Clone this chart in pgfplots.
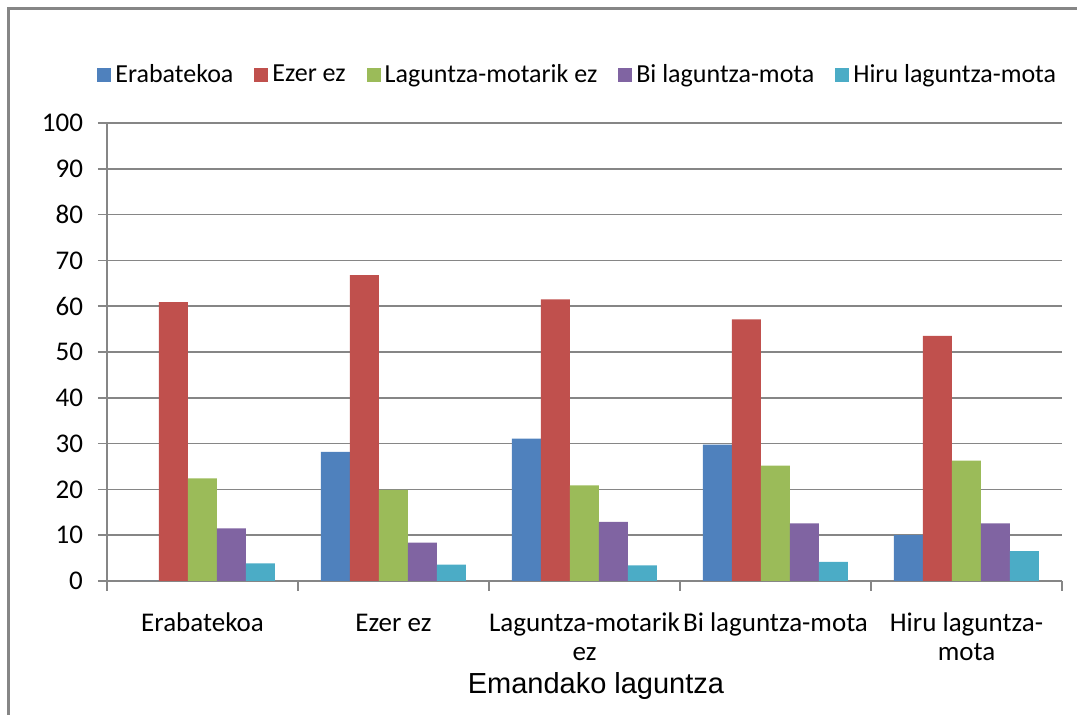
\documentclass[border=0pt]{standalone}
\usepackage{pgfplots}
\pgfplotsset{compat=1.18}
\usepackage{fontspec}
\setmainfont{Carlito}
\newfontfamily\arialfont{Liberation Sans}
\definecolor{cblue}{HTML}{4F81BD}
\definecolor{cred}{HTML}{C0504D}
\definecolor{cgreen}{HTML}{9BBB59}
\definecolor{cpurple}{HTML}{8064A2}
\definecolor{ccyan}{HTML}{4BACC6}
\definecolor{gridgray}{RGB}{134,134,134}
\begin{document}
\begin{tikzpicture}
\useasboundingbox (-53.5pt,-67pt) rectangle (485pt,290.5pt);
\begin{axis}[
  scale only axis, width=477.5pt, height=229pt,
  at={(0pt,0pt)}, anchor=south west,
  ybar=0pt, bar width=14.5pt,
  xmin=-0.5, xmax=4.5, ymin=0, ymax=100,
  ytick={0,10,...,100},
  xtick={0,1,2,3,4},
  xticklabels={\strut Erabatekoa, \strut Ezer ez, {\strut Laguntza-motarik\\\strut ez}, \strut Bi laguntza-mota, {\strut Hiru laguntza-\\\strut mota}},
  minor xtick={-0.5,0.5,1.5,2.5,3.5,4.5},
  major x tick style={draw=none},
  tick align=outside,
  major tick length=4.5pt, minor tick length=5pt,
  tick style={gridgray, line width=0.8pt},
  axis x line*=bottom, axis y line*=left,
  axis line style={-, gridgray, line width=0.8pt},
  ymajorgrids, grid style={gridgray, line width=0.8pt},
  /pgf/number format/assume math mode=true,
  y tick label style={font=\fontsize{13.5}{16}\selectfont, xshift=-4pt},
  x tick label style={font=\fontsize{13.5}{14.5}\selectfont, align=center, anchor=north, yshift=-7pt},
  xlabel={\arialfont\fontsize{14.5}{17}\selectfont Emandako laguntza},
  xlabel style={at={(axis description cs:0.512,-0.229)}, anchor=center},
  legend style={draw=none, legend columns=-1, at={(0.494,1)}, anchor=center, yshift=24pt,
    font=\fontsize{13}{15}\selectfont,
    /tikz/every even column/.append style={column sep=8.5pt}},
  legend image code/.code={\fill[#1] (0pt,-3.5pt) rectangle (7pt,3.5pt);},
]
\addplot[fill=cblue, draw=none] coordinates {(0,0) (1,28.2) (2,31.1) (3,29.8) (4,10.0)};
\addplot[fill=cred, draw=none] coordinates {(0,60.9) (1,66.8) (2,61.5) (3,57.1) (4,53.5)};
\addplot[fill=cgreen, draw=none] coordinates {(0,22.4) (1,19.9) (2,20.9) (3,25.2) (4,26.3)};
\addplot[fill=cpurple, draw=none] coordinates {(0,11.5) (1,8.4) (2,12.9) (3,12.6) (4,12.6)};
\addplot[fill=ccyan, draw=none] coordinates {(0,3.85) (1,3.6) (2,3.4) (3,4.2) (4,6.5)};
\legend{Erabatekoa, Ezer ez, Laguntza-motarik ez, Bi laguntza-mota, Hiru laguntza-mota}
\end{axis}
\draw[gridgray, line width=1.5pt] (-49pt,-67pt) -- (-49pt,286pt) -- (485pt,286pt);
\end{tikzpicture}
\end{document}
